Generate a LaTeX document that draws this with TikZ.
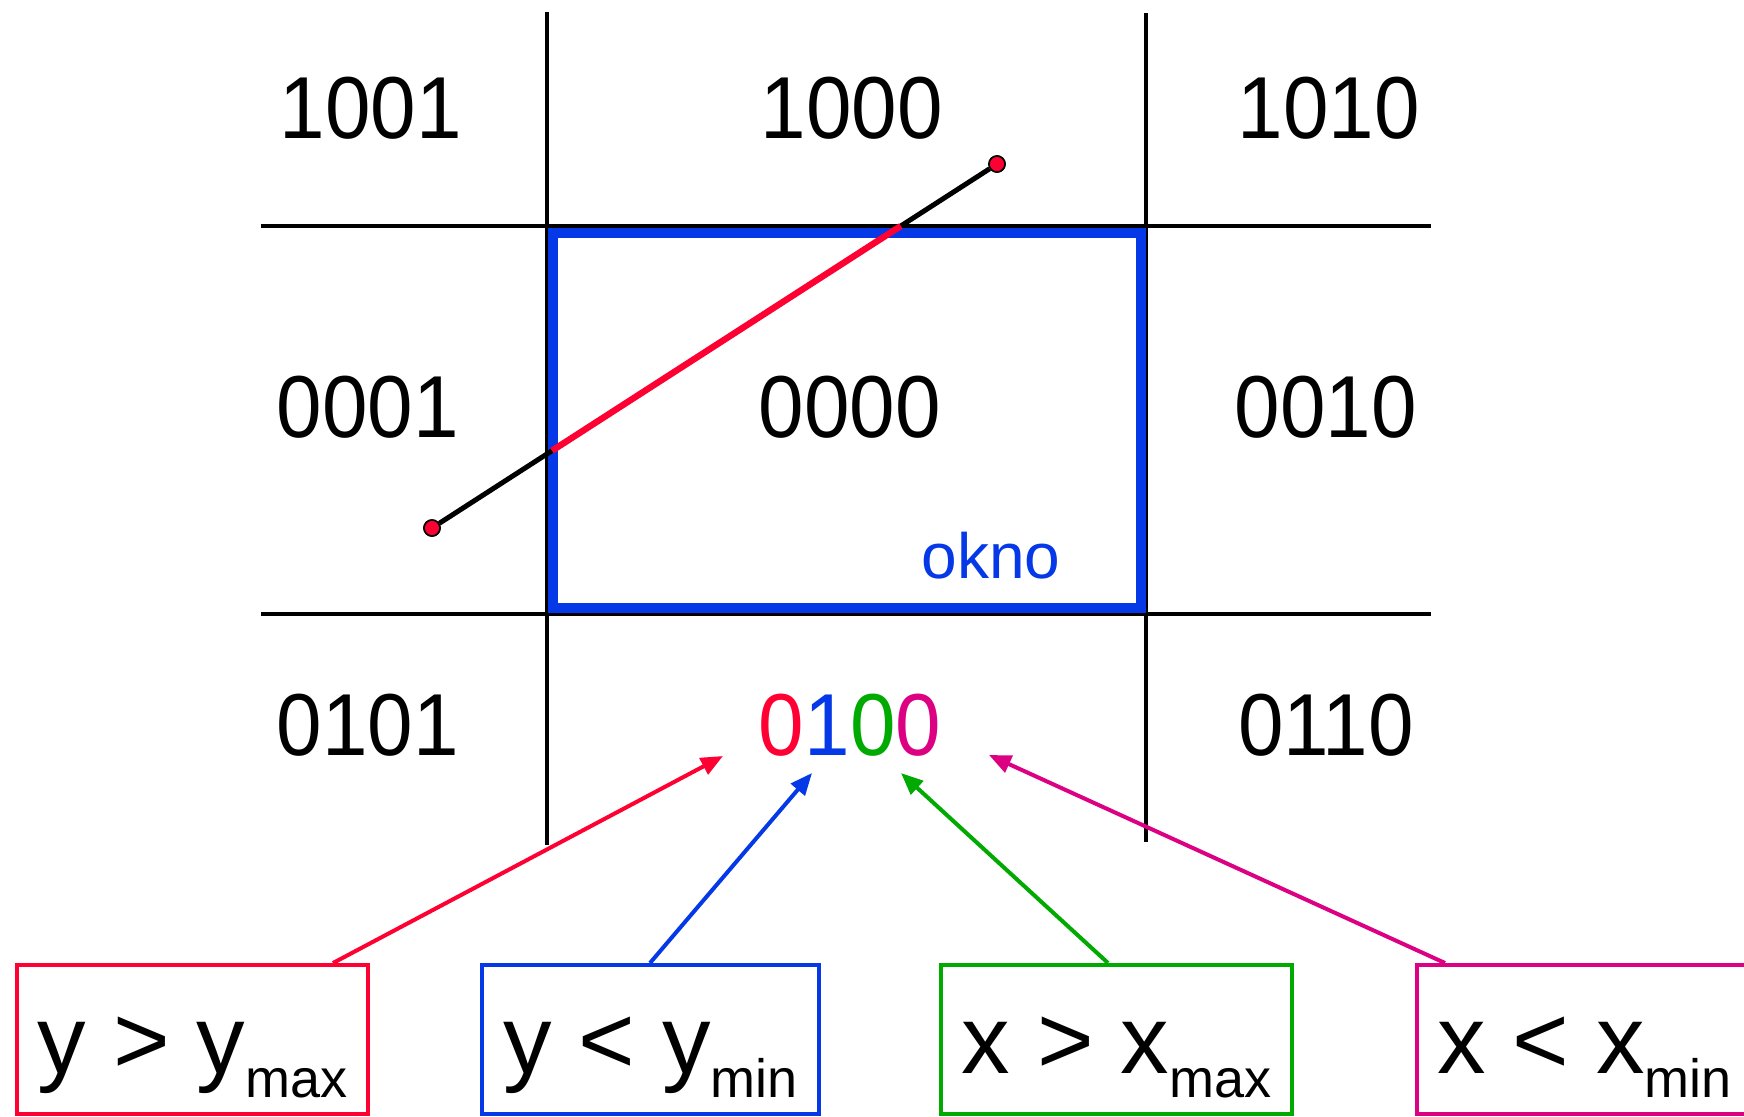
\documentclass[tikz,border=0pt]{standalone}
\usepackage{fontspec}
\setmainfont{Liberation Sans}
\newfontfamily\codefont[FakeStretch=0.93]{Liberation Sans}
\usetikzlibrary{arrows.meta,calc}
\definecolor{cred}{RGB}{255,0,51}
\definecolor{cblue}{RGB}{5,56,230}
\definecolor{cgreen}{RGB}{0,170,0}
\definecolor{cmag}{RGB}{220,0,130}
\newcommand{\subtxt}[1]{\raisebox{-12pt}{\fontsize{27}{30}\selectfont #1}}
\begin{document}
\begin{tikzpicture}[x=0.5pt,y=-0.5pt,
  grid/.style={line width=2pt},
  code/.style={inner sep=0pt, anchor=base, font=\codefont\fontsize{44}{50}\selectfont},
  cond/.style={inner sep=0pt, anchor=base, font=\fontsize{48.5}{60}\selectfont},
  cbox/.style={draw, line width=2pt, inner sep=0pt, minimum height=74.5pt},
  dot/.style={circle, draw=black, line width=0.8pt, fill=cred, inner sep=0pt, minimum size=8pt},
  arr/.style={line width=2pt, -{Triangle[length=11pt,width=9pt]}}
]
\useasboundingbox (0,0) rectangle (1744,1116);

% grid
\draw[grid] (547,12) coordinate (v1a) -- (547,845) coordinate (v1b);
\draw[line width=1.6pt] (1146,13) coordinate (v2a) -- (1146,842) coordinate (v2b);
\draw[grid] (261,226) coordinate (h1a) -- (1431,226) coordinate (h1b);
\draw[grid] (261,614) coordinate (h2a) -- (1431,614) coordinate (h2b);

% window
\draw[cblue, line width=5pt] (552.5,232.5) rectangle (1141,608);
\node[inner sep=0pt, anchor=base, text=cblue, font=\fontsize{32}{34}\selectfont] (okno) at (991,578) {okno};

% codes
\node[code] (c1001) at (371,138) {1001};
\node[code] (c1000) at (852,138) {1000};
\node[code] (c1010) at (1329,138) {1010};
\node[code] (c0001) at (368,437) {0001};
\node[code] (c0000) at (850,437) {0000};
\node[code] (c0010) at (1326,437) {0010};
\node[code] (c0101) at (368,755) {0101};
\node[code] (c0100) at (850,755) {\textcolor{cred}{0}\textcolor{cblue}{1}\textcolor{cgreen}{0}\textcolor{cmag}{0}};
\node[code] (c0110) at (1326,755) {0110};

% line segment
\node[dot] (p1) at (432,528) {};
\node[dot] (p2) at (997,164) {};
\draw[line width=2.5pt] (p1) -- (p2);
\coordinate (s1) at (552,450.7);
\coordinate (s2) at (900.8,226);
\draw[cred, line width=3.2pt] (s1) -- (s2);
\node[dot] at (p1) {};
\node[dot] at (p2) {};

% condition boxes
\node[cbox, draw=cred, minimum width=175.5pt] (rbox) at (192.5,1039.5) {};
\node[cbox, draw=cblue, minimum width=168.5pt] (bbox) at (650.5,1039.5) {};
\node[cbox, draw=cgreen, minimum width=175.5pt] (gbox) at (1116.5,1039.5) {};
\node[cbox, draw=cmag, minimum width=167.5pt] (mbox) at (1584.5,1039.5) {};

\node[cond] (rtxt) at (192.5,1073) {y > y\subtxt{max}};
\node[cond] (btxt) at (650.5,1073) {y < y\subtxt{min}};
\node[cond] (gtxt) at (1116.5,1073) {x > x\subtxt{max}};
\node[cond] (mtxt) at (1584.5,1073) {x < x\subtxt{min}};

% arrows
\coordinate (tr) at (723,756);
\coordinate (tb) at (812,773);
\coordinate (tg) at (901,773);
\coordinate (tm) at (989,755);
\draw[arr, cred] ([xshift=159pt]rbox.north west) -- (tr);
\draw[arr, cblue] ([xshift=85pt]bbox.north west) -- (tb);
\draw[arr, cgreen] ([xshift=84.5pt]gbox.north west) -- (tg);
\draw[arr, cmag] ([xshift=15pt]mbox.north west) -- (tm);
\end{tikzpicture}
\end{document}
